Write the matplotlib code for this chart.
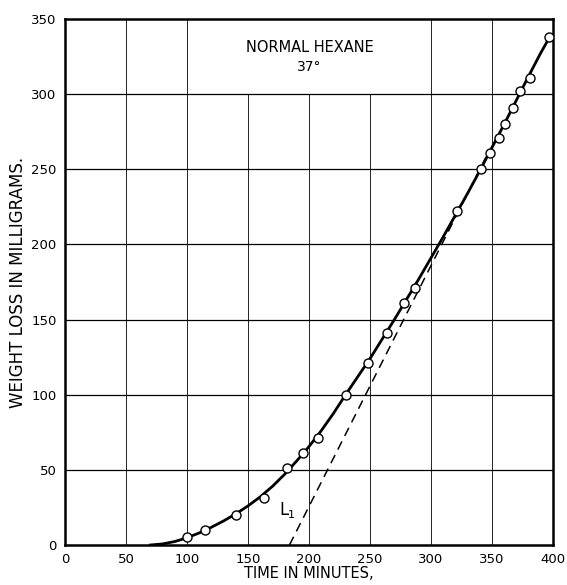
import matplotlib
matplotlib.use("Agg")
import matplotlib.pyplot as plt

# measured points (time in minutes, weight loss in mg)
pts_t = [100, 115, 140, 163, 182, 195, 207, 230, 248, 264, 278, 287,
         321, 341, 348, 356, 361, 367, 373, 381, 397]
pts_w = [5, 10, 20, 31, 51, 61, 71, 100, 121, 141, 161, 171,
         222, 250, 261, 271, 280, 291, 302, 311, 338]

# smooth curve
curve_t = [70, 80, 90, 100, 110, 120, 130, 140, 150, 160, 170, 180, 190, 200,
           210, 220, 230, 240, 250, 260, 270, 280, 290, 300, 310, 320, 330,
           340, 350, 360, 370, 380, 390, 398]
curve_w = [0, 0.7, 2.3, 4.8, 8, 11.8, 16, 20.7, 26, 32, 39, 47, 56, 65.5,
           76, 87.5, 100, 112, 124, 137, 150, 163.5, 177, 191, 205, 219.5, 234,
           249, 264.5, 280, 296, 312, 327.5, 339]

# tangent line (dashed) endpoints
tang_t = [184, 345]
tang_w = [0, 258]

xticks = [0, 50, 100, 150, 200, 250, 300, 350, 400]
yticks = [0, 50, 100, 150, 200, 250, 300, 350]

fig = plt.figure(figsize=(5.67, 5.85), dpi=100)
ax = fig.add_axes([0.1146, 0.0684, 0.8607, 0.8991])
ax.set_xlim(0, 400)
ax.set_ylim(0, 350)

# grid - a few vertical lines stop under the title
for x in xticks[1:-1]:
    top = 300 / 350 if x in (150, 200, 250) else 1
    ax.axvline(x, ymax=top, color="black", lw=0.6, zorder=1)
for y in yticks[1:-1]:
    ax.axhline(y, color="black", lw=0.9, zorder=1)

ax.plot(tang_t, tang_w, color="black", lw=1.1, ls=(0, (6, 4)), zorder=2)
ax.plot(curve_t, curve_w, color="black", lw=2.0, zorder=3)
ax.plot(pts_t, pts_w, "o", ms=6.5, mfc="white", mec="black", mew=1.0, zorder=4)

ax.text(201, 331, "NORMAL HEXANE", ha="center", va="center", fontsize=10.5)
ax.text(200, 318, "37°", ha="center", va="center", fontsize=10)
ax.text(176, 23, "L", ha="left", va="center", fontsize=12)
ax.text(183, 20, "1", ha="left", va="center", fontsize=8)

ax.set_xticks(xticks)
ax.set_yticks(yticks)
ax.tick_params(length=0, labelsize=9.5, pad=6)
for s in ax.spines.values():
    s.set_linewidth(1.8)

ax.set_xlabel("TIME IN MINUTES,", fontsize=10.5, labelpad=0)
ax.set_ylabel("WEIGHT LOSS IN MILLIGRAMS.", fontsize=12, labelpad=3)

fig.savefig("out.png", dpi=100)
